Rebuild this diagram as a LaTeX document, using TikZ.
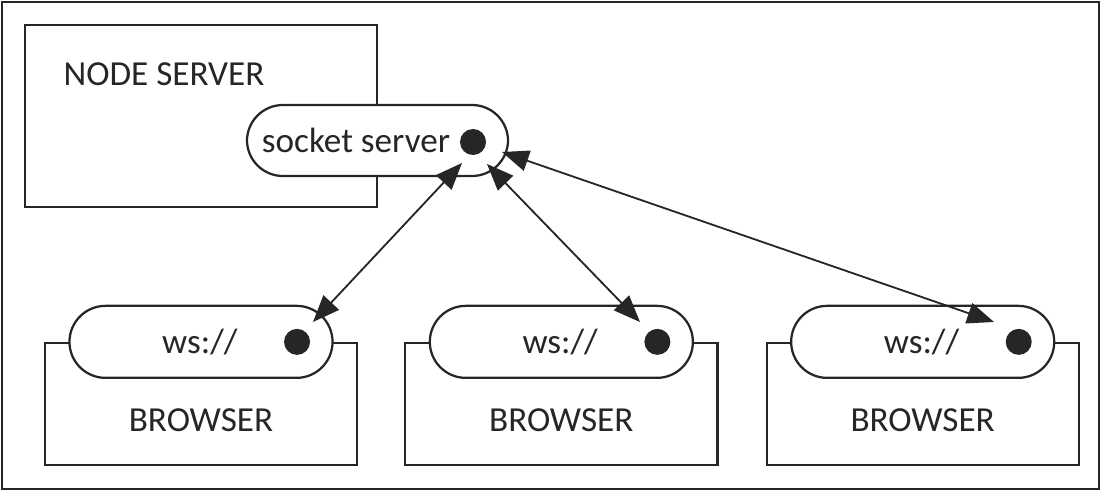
\documentclass[tikz,border=0pt]{standalone}
\usepackage{fontspec}
\setmainfont{Carlito}
\usetikzlibrary{positioning}
\usetikzlibrary{arrows.meta}
\definecolor{ink}{HTML}{262626}
\tikzset{
  box/.style={draw=ink, line width=1.6pt, minimum width=7.8cm, minimum height=3.05cm},
  pill/.style={draw=ink, fill=white, line width=1.6pt, rounded corners=0.9cm,
    minimum width=6.575cm, minimum height=1.8cm},
  dot/.style={circle, fill=ink, inner sep=0pt, minimum size=0.65cm},
  lbl/.style={text=ink, font=\fontsize{25}{30}\selectfont, inner sep=0pt},
  link/.style={draw=ink, line width=1.3pt,
    {Triangle[length=19pt,width=15pt]}-{Triangle[length=19pt,width=15pt]}},
}

\begin{document}
\begin{tikzpicture}[x=0.025cm, y=-0.025cm]
            \useasboundingbox (0,0) rectangle (1102,492);
            \draw[draw=ink, line width=1.6pt] (2,2) rectangle (1099,489);

            % server side
            \node[box, minimum width=8.8cm, minimum height=4.55cm] (nodesrv) at (201,116) {};
            \node[lbl] (nodelbl) at (164,74)  {NODE SERVER};
            \node[pill, minimum width=6.525cm, minimum height=1.775cm] (sock) at (377.5,140.5) {};
            \node[lbl] (socklbl) at (356,140) {socket server};
            \node[dot] (sockdot) at (473,142) {};

            % browsers
            \node[box] (br1) at (201,404) {};
            \node[box] (br2) [right=1.15cm of br1]  {};
            \node[box] (br3) [right=1.175cm of br2] {};

            \node[pill] (ws1) at (br1.north) {};
            \node[pill] (ws2) at (br2.north) {};
            \node[pill] (ws3) at (br3.north) {};

            \node[lbl] (wslbl1) at ([xshift=-0.03cm]ws1.center) {ws://};
            \node[lbl] (wslbl2) at ([xshift=-0.03cm]ws2.center) {ws://};
            \node[lbl] (wslbl3) at ([xshift=-0.03cm]ws3.center) {ws://};

            \node[dot] (wsdot1) at ([xshift=2.4cm]ws1.center) {};
            \node[dot] (wsdot2) at ([xshift=2.4cm]ws2.center) {};
            \node[dot] (wsdot3) at ([xshift=2.4cm]ws3.center) {};

            \node[lbl] (brlbl1) at ([yshift=-0.4cm]br1.center) {BROWSER};
            \node[lbl] (brlbl2) at ([yshift=-0.4cm]br2.center) {BROWSER};
            \node[lbl] (brlbl3) at ([yshift=-0.4cm]br3.center) {BROWSER};

            % links
            \coordinate (s1) at (462,163);
            \coordinate (s2) at (487,164);
            \coordinate (s3) at (502,152);
            \coordinate (w1) at (313,322);
            \coordinate (w2) at (640,322);
            \coordinate (w3) at (994,322);
            \draw[link] (s1) -- (w1);
            \draw[link] (s2) -- (w2);
            \draw[link] (s3) -- (w3);
        \end{tikzpicture}
\end{document}
